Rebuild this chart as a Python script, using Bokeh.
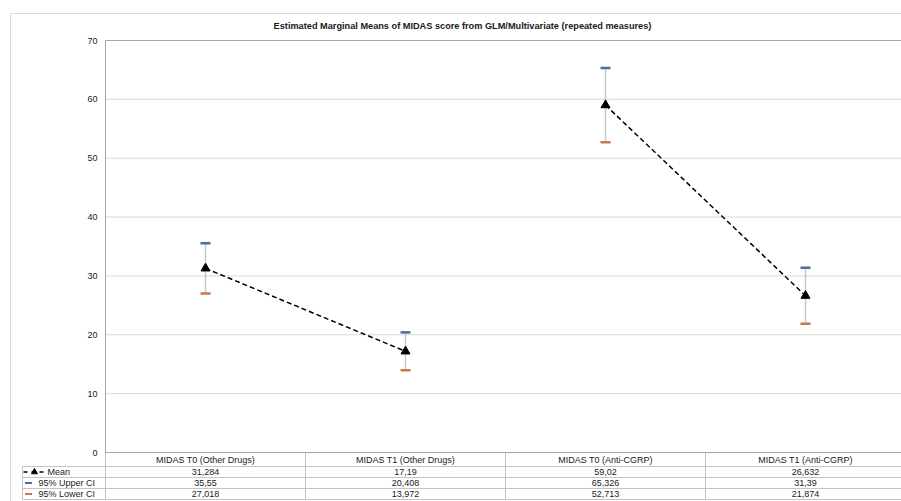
from bokeh.plotting import figure
from bokeh.models import Range1d, FixedTicker
from bokeh.embed import file_html
from bokeh.resources import INLINE
from bokeh.core.properties import value

# ---------------- data ----------------
categories = ["MIDAS T0 (Other Drugs)", "MIDAS T1 (Other Drugs)",
              "MIDAS T0 (Anti-CGRP)", "MIDAS T1 (Anti-CGRP)"]
mean_vals = [31.284, 17.19, 59.02, 26.632]
upper_ci = [35.55, 20.408, 65.326, 31.39]
lower_ci = [27.018, 13.972, 52.713, 21.874]
series_names = ["Mean", "95% Upper CI", "95% Lower CI"]
y_ticks = [0, 10, 20, 30, 40, 50, 60, 70]
title_text = "Estimated Marginal Means of MIDAS score from GLM/Multivariate (repeated measures)"

# ---------------- layout constants (pixels of the canvas) ----------------
FONT = "Liberation Sans"
W, H = 901, 501
PLOT_LEFT_PX = 105      # x pixel of the value axis
PLOT_TOP_PX = 40        # y pixel of the top value
PLOT_BOTTOM_PX = 452    # y pixel of zero
COL_PX = 200            # pixels per category column
PX_PER_Y = (PLOT_BOTTOM_PX - PLOT_TOP_PX) / (y_ticks[-1] - y_ticks[0])

UPPER_COLOR = "#4f6d9f"
LOWER_COLOR = "#c8794a"
GRID_COLOR = "#d9d9d9"
AXIS_COLOR = "#a6a6a6"
TABLE_LINE = "#c4c4c4"
TEXT_COLOR = "#1a1a1a"


def px_to_x(px):
    return (px - PLOT_LEFT_PX) / COL_PX


def py_to_y(py):
    return (PLOT_BOTTOM_PX - py) / PX_PER_Y


def fmt(v):
    return repr(v).replace(".", ",")


xs = [i + 0.5 for i in range(len(categories))]
bounds = list(range(len(categories) + 1))
X_END = px_to_x(W)

p = figure(width=W, height=H, output_backend="svg", toolbar_location=None,
           title=None,
           x_range=Range1d(px_to_x(0), X_END),
           y_range=Range1d(py_to_y(H), py_to_y(0)),
           min_border=0, min_border_left=0, min_border_right=0,
           min_border_top=0, min_border_bottom=0,
           background_fill_color="white", border_fill_color="white")
p.outline_line_color = None
p.grid.visible = False

# ---------------- gridlines (value axis) ----------------
grid_vals = y_ticks[1:-1]
p.segment(x0=[0] * len(grid_vals), y0=grid_vals, x1=[X_END] * len(grid_vals), y1=grid_vals,
          line_color=GRID_COLOR, line_width=1)
# top edge of plot area
p.segment(x0=[0], y0=[y_ticks[-1]], x1=[X_END], y1=[y_ticks[-1]],
          line_color=AXIS_COLOR, line_width=1)

# ---------------- axes (fixed inside the frame) ----------------
p.yaxis.fixed_location = 0
p.yaxis.bounds = (y_ticks[0], y_ticks[-1])
p.yaxis.ticker = FixedTicker(ticks=y_ticks)
p.yaxis.axis_line_color = AXIS_COLOR
p.yaxis.major_tick_line_color = None
p.yaxis.minor_tick_line_color = None
p.yaxis.major_tick_out = 0
p.yaxis.major_tick_in = 0
p.yaxis.minor_tick_out = 0
p.yaxis.minor_tick_in = 0
p.yaxis.major_label_standoff = 8
p.yaxis.major_label_text_font = FONT
p.yaxis.major_label_text_font_size = "9px"
p.yaxis.major_label_text_color = TEXT_COLOR

p.xaxis.fixed_location = y_ticks[0]
p.xaxis.bounds = (0, X_END)
p.xaxis.ticker = FixedTicker(ticks=xs)
p.xaxis.major_label_overrides = {x: c for x, c in zip(xs, categories)}
p.xaxis.axis_line_color = AXIS_COLOR
p.xaxis.major_tick_line_color = None
p.xaxis.minor_tick_line_color = None
p.xaxis.major_tick_out = 0
p.xaxis.major_tick_in = 0
p.xaxis.minor_tick_out = 0
p.xaxis.minor_tick_in = 0
p.xaxis.major_label_standoff = 2
p.xaxis.major_label_text_font = FONT
p.xaxis.major_label_text_font_size = "9px"
p.xaxis.major_label_text_color = TEXT_COLOR

# outer chart border
p.segment(x0=[px_to_x(10), px_to_x(10)], y0=[py_to_y(13), py_to_y(13)],
          x1=[X_END, px_to_x(10)], y1=[py_to_y(13), py_to_y(H)],
          line_color=GRID_COLOR, line_width=1)

# title
p.text(x=[px_to_x(462)], y=[py_to_y(25)], text=[title_text],
       text_align="center", text_baseline="middle",
       text_font=value(FONT), text_font_size="9.2px", text_font_style="bold",
       text_color=TEXT_COLOR)

# ---------------- series ----------------
p.segment(x0=xs, y0=lower_ci, x1=xs, y1=upper_ci, line_color="#c9c9c9", line_width=1.5)
p.scatter(xs, upper_ci, marker="dash", size=10, line_color=UPPER_COLOR, line_width=2.5)
p.scatter(xs, lower_ci, marker="dash", size=10, line_color=LOWER_COLOR, line_width=2.5)

p.line(xs[:2], mean_vals[:2], line_color="black", line_width=1.5, line_dash="5 3")
p.line(xs[2:], mean_vals[2:], line_color="black", line_width=1.5, line_dash="5 3")
p.scatter(xs, mean_vals, marker="triangle", size=9, color="black")

# ---------------- data table ----------------
row_tops_px = [466, 477, 488, 499]
row_tops = [py_to_y(v) for v in row_tops_px]
tbl_left = px_to_x(22)
p.segment(x0=[tbl_left] * len(row_tops), y0=row_tops,
          x1=[X_END] * len(row_tops), y1=row_tops, line_color=TABLE_LINE, line_width=1)
p.segment(x0=bounds[:-1], y0=[0] * (len(bounds) - 1),
          x1=bounds[:-1], y1=[row_tops[-1]] * (len(bounds) - 1),
          line_color=TABLE_LINE, line_width=1)
p.segment(x0=[tbl_left], y0=[row_tops[0]], x1=[tbl_left], y1=[row_tops[-1]],
          line_color=TABLE_LINE, line_width=1)

row_centers = [(row_tops[i] + row_tops[i + 1]) / 2 for i in range(len(series_names))]
table_rows = [mean_vals, upper_ci, lower_ci]
for yc, vals in zip(row_centers, table_rows):
    p.text(x=xs, y=[yc] * len(xs), text=[fmt(v) for v in vals],
           text_align="center", text_baseline="middle",
           text_font=value(FONT), text_font_size="9px", text_color=TEXT_COLOR)

label_x = [px_to_x(47), px_to_x(38), px_to_x(38)]
for lx, yc, name in zip(label_x, row_centers, series_names):
    p.text(x=[lx], y=[yc], text=[name], text_align="left", text_baseline="middle",
           text_font=value(FONT), text_font_size="9px", text_color=TEXT_COLOR)

# legend keys
p.segment(x0=[px_to_x(23)], y0=[row_centers[0]], x1=[px_to_x(45)], y1=[row_centers[0]],
          line_color="black", line_width=1.5, line_dash="4 4")
p.scatter([px_to_x(34)], [row_centers[0]], marker="triangle", size=6, color="black")
p.scatter([px_to_x(28)], [row_centers[1]], marker="dash", size=7, line_color=UPPER_COLOR, line_width=2)
p.scatter([px_to_x(28)], [row_centers[2]], marker="dash", size=7, line_color=LOWER_COLOR, line_width=2)

open("out.html", "w").write(file_html(p, INLINE))
